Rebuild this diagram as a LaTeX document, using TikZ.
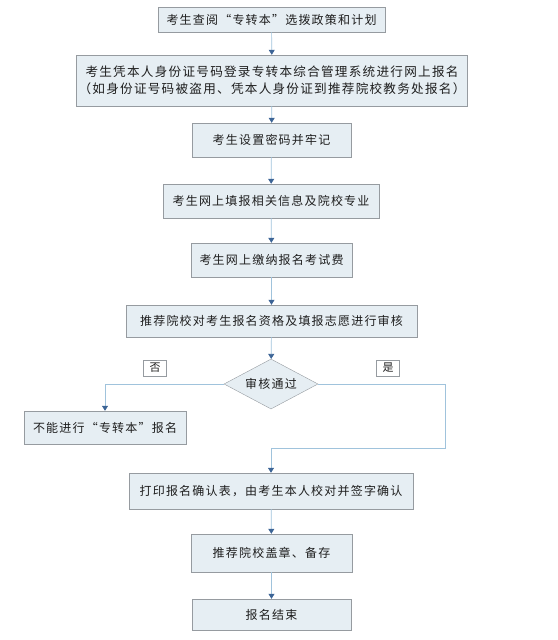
\documentclass[tikz,border=0pt]{standalone}
\usepackage{fontspec}
\newfontfamily\cjk[LetterSpace=10]{Noto Sans CJK SC}
\usetikzlibrary{shapes.geometric,arrows.meta}
\definecolor{boxfill}{RGB}{230,238,243}
\definecolor{boxline}{RGB}{150,155,160}
\definecolor{linkline}{RGB}{160,195,220}
\definecolor{tipblue}{RGB}{60,100,150}
\definecolor{txt}{RGB}{30,30,30}
\tikzset{
  box/.style={draw=boxline, fill=boxfill, inner sep=2pt, align=center,
    text=txt, font=\cjk\fontsize{12}{16}\selectfont},
  decision/.style={diamond, draw=boxline, fill=boxfill, inner sep=0pt, aspect=2,
    minimum width=94pt, minimum height=50pt, text=txt, font=\cjk\fontsize{12}{14}\selectfont},
  tag/.style={draw=boxline, fill=white, inner sep=1pt, minimum width=23pt,
    minimum height=16pt, text=txt, font=\cjk\fontsize{11}{13}\selectfont},
  link/.style={draw=linkline, line width=0.7pt,
    -{Triangle[length=5pt,width=6pt,color=tipblue]}},
}
\begin{document}
\begin{tikzpicture}[x=1pt,y=-1pt]
  \useasboundingbox (0,0) rectangle (557,640);
  % Schritte
  \node[box, minimum width=227pt, minimum height=25pt] (b1) at (271.5,19.5) {考生查阅“专转本”选拨政策和计划};
  \node[box, minimum width=382pt, minimum height=51pt, font=\cjk\fontsize{12.6}{17}\selectfont] (b2) at (272,80.5)
    {考生凭本人身份证号码登录专转本综合管理系统进行网上报名\\（如身份证号码被盗用、凭本人身份证到推荐院校教务处报名）};
  \node[box, minimum width=159pt, minimum height=34pt] (b3) at (271.5,140) {考生设置密码并牢记};
  \node[box, minimum width=216pt, minimum height=34pt] (b4) at (271,201) {考生网上填报相关信息及院校专业};
  \node[box, minimum width=161pt, minimum height=34pt] (b5) at (271.5,260) {考生网上缴纳报名考试费};
  \node[box, minimum width=291pt, minimum height=32pt] (b6) at (271.5,321) {推荐院校对考生报名资格及填报志愿进行审核};
  \node[decision] (check) at (271,384) {审核通过};
  \node[box, minimum width=162pt, minimum height=33pt] (b7) at (105,427.5) {不能进行“专转本”报名};
  \node[box, minimum width=284pt, minimum height=36pt] (b8) at (271,491) {打印报名确认表，由考生本人校对并签字确认};
  \node[box, minimum width=161pt, minimum height=38pt] (b9) at (271.5,553) {推荐院校盖章、备存};
  \node[box, minimum width=159pt, minimum height=31pt] (b10) at (271.5,614.5) {报名结束};
  % Marken
  \node[tag] (no) at (155,368) {否};
  \node[tag] (yes) at (388,368) {是};
  % Pfeile
  \draw[link] (b1) -- (b2);
  \draw[link] (b2) -- (b3);
  \draw[link] (b3) -- (b4);
  \draw[link] (b4) -- (b5);
  \draw[link] (b5) -- (b6);
  \draw[link] (b6) -- (check);
  \draw[link] (check.west) -| (b7.north);
  \coordinate (r1) at (445,384);
  \coordinate (r2) at (445,448);
  \draw[link] (check.east) -- (r1) -- (r2) -- (r2 -| b8.north) -- (b8.north);
  \draw[link] (b8) -- (b9);
  \draw[link] (b9) -- (b10);
\end{tikzpicture}
\end{document}
